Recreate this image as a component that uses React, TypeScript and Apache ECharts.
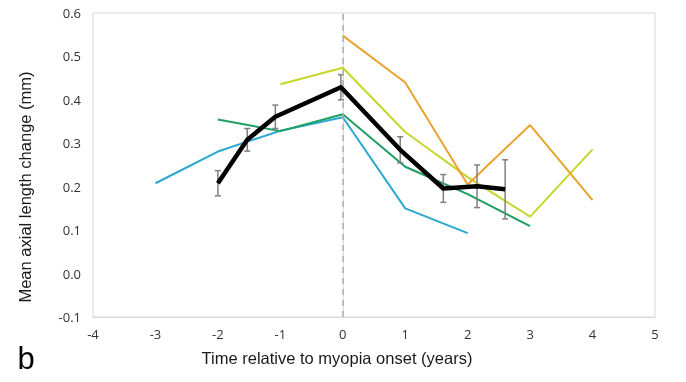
import React, { useEffect, useRef } from "react";
import * as echarts from "echarts";

const cyanData: [number, number][] = [[-3, 0.208], [-2, 0.281], [-1, 0.329], [0, 0.36], [1, 0.15], [2, 0.093]];
const greenData: [number, number][] = [[-2, 0.355], [-1, 0.328], [0, 0.367], [1, 0.246], [2, 0.183], [3, 0.109]];
const yellowData: [number, number][] = [[-1, 0.436], [0, 0.474], [1, 0.326], [2, 0.222], [3, 0.131], [4, 0.286]];
const orangeData: [number, number][] = [[0, 0.548], [1, 0.44], [2, 0.205], [3, 0.342], [4, 0.169]];
const meanTimes = [-2, -1.53, -1.08, -0.03, 0.92, 1.61, 2.15, 2.6];
const meanValues = [0.208, 0.308, 0.361, 0.429, 0.285, 0.196, 0.201, 0.194];
const meanErrors = [0.029, 0.026, 0.027, 0.029, 0.03, 0.032, 0.049, 0.068];

export default function App() {
  const ref = useRef<HTMLDivElement>(null);
  useEffect(() => {
    if (!ref.current) return;
    const chart = echarts.init(ref.current, null, { renderer: "svg" });
    const meanData = meanTimes.map((t, i) => [t, meanValues[i]]);
    const errData = meanTimes.map((t, i) => [t, meanValues[i] - meanErrors[i], meanValues[i] + meanErrors[i]]);
    const lineSeries = (data: [number, number][], color: string) => ({
      type: "line",
      data,
      symbol: "none",
      lineStyle: { color, width: 2 },
      z: 3,
    });
    chart.setOption({
      animation: false,
      grid: { left: 93, right: 31, top: 13, bottom: 65, show: true, borderColor: "#d9d9d9", borderWidth: 1 },
      xAxis: {
        type: "value",
        min: -4,
        max: 5,
        interval: 1,
        splitLine: { show: false },
        axisLine: { show: true, onZero: false, lineStyle: { color: "#d9d9d9" } },
        axisTick: { show: false },
        axisLabel: { color: "#333333", fontSize: 13, fontFamily: "Open Sans", margin: 10 },
      },
      yAxis: {
        type: "value",
        min: -0.1,
        max: 0.6,
        interval: 0.1,
        splitLine: { show: false },
        axisLine: { show: true, lineStyle: { color: "#d9d9d9" } },
        axisTick: { show: false },
        axisLabel: {
          color: "#333333",
          fontSize: 13,
          fontFamily: "Open Sans",
          margin: 12,
          formatter: (v: number) => v.toFixed(1),
        },
      },
      graphic: [
        {
          type: "text",
          x: 25,
          y: 187,
          rotation: Math.PI / 2,
          style: {
            text: "Mean axial length change (mm)",
            font: "16.5px 'Liberation Sans'",
            fill: "#1a1a1a",
            align: "center",
            verticalAlign: "middle",
          },
        },
        {
          type: "text",
          x: 337,
          y: 358,
          style: {
            text: "Time relative to myopia onset (years)",
            font: "16.5px 'Liberation Sans'",
            fill: "#1a1a1a",
            align: "center",
            verticalAlign: "middle",
          },
        },
        {
          type: "text",
          x: 26,
          y: 358,
          style: {
            text: "b",
            font: "31px 'Liberation Sans'",
            fill: "#000",
            align: "center",
            verticalAlign: "middle",
          },
        },
      ],
      series: [
        {
          ...lineSeries(cyanData, "#2aa8d0"),
          markLine: {
            silent: true,
            symbol: "none",
            label: { show: false },
            lineStyle: { color: "#b0b0b0", type: [6, 5], width: 1.5 },
            data: [{ xAxis: 0 }],
          },
        },
        lineSeries(greenData, "#1e9e62"),
        lineSeries(yellowData, "#c8d62c"),
        lineSeries(orangeData, "#e8a42e"),
        {
          type: "custom",
          data: errData,
          z: 4,
          renderItem: (params: any, api: any) => {
            const x = api.value(0);
            const lo = api.coord([x, api.value(1)]);
            const hi = api.coord([x, api.value(2)]);
            const cap = 3;
            const style = { stroke: "#808080", lineWidth: 1.5 };
            return {
              type: "group",
              children: [
                { type: "line", shape: { x1: lo[0], y1: lo[1], x2: hi[0], y2: hi[1] }, style },
                { type: "line", shape: { x1: lo[0] - cap, y1: lo[1], x2: lo[0] + cap, y2: lo[1] }, style },
                { type: "line", shape: { x1: hi[0] - cap, y1: hi[1], x2: hi[0] + cap, y2: hi[1] }, style },
              ],
            };
          },
        },
        {
          type: "line",
          data: meanData,
          symbol: "none",
          lineStyle: { color: "#000", width: 4.5, join: "round" },
          z: 5,
        },
      ],
    });
    return () => chart.dispose();
  }, []);
  return <div ref={ref} style={{ position: "fixed", left: 0, top: 0, width: 686, height: 382 }} />;
}
